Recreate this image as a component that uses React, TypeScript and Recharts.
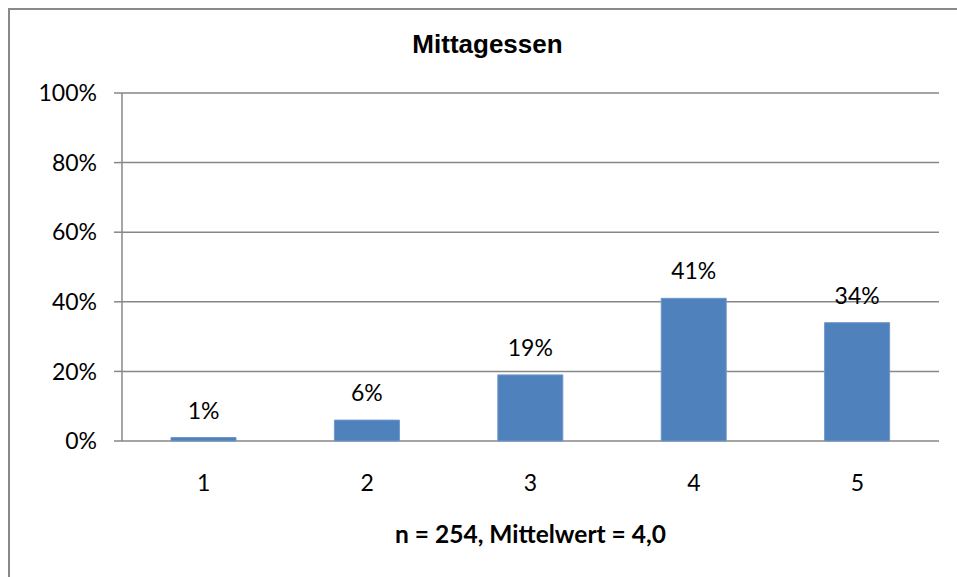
import React from "react";
import { BarChart, Bar, XAxis, YAxis, CartesianGrid, LabelList, Customized } from "recharts";

const categories = ["1", "2", "3", "4", "5"];
const shares = [1, 6, 19, 41, 34];
const yTicks = [0, 20, 40, 60, 80, 100];
const edgeTicks = [0.5, 1.5, 2.5, 3.5, 4.5, 5.5];
const chartTitle = "Mittagessen";
const axisTitle = "n = 254, Mittelwert = 4,0";

const data = categories.map((c, i) => ({ cat: c, value: shares[i] }));

const FONT = "Lato, 'Open Sans', sans-serif";
const GRID = "#878787";

const Titles = () => (
  <g>
    <text x={479.5} y={45} textAnchor="middle" fontFamily="'Liberation Sans', Arial, sans-serif" fontWeight="bold" fontSize={26} fill="#000">
      {chartTitle}
    </text>
    <text x={522.5} y={535} textAnchor="middle" fontFamily={FONT} fontWeight="bold" fontSize={24.5} fill="#000">
      {axisTitle}
    </text>
  </g>
);

export default function App() {
  return (
    <div style={{ position: "relative", width: 941, height: 561, overflow: "hidden", background: "#fff" }}>
      <BarChart
        width={941}
        height={561}
        data={data}
        margin={{ top: 85, right: 10, bottom: 68, left: 0 }}
        barCategoryGap="30%"
      >
        <CartesianGrid horizontal vertical={false} stroke={GRID} strokeWidth={1.5} />
        <XAxis
          xAxisId="edges"
          type="number"
          dataKey="pos"
          domain={[0.5, 5.5]}
          ticks={edgeTicks}
          tick={false}
          tickSize={8}
          height={0}
          stroke={GRID}
          strokeWidth={1.5}
          tickLine={{ stroke: GRID, strokeWidth: 1.5 }}
          allowDataOverflow
        />
        <XAxis
          xAxisId="cat"
          dataKey="cat"
          axisLine={false}
          tickLine={false}
          tickSize={0}
          tickMargin={34}
          height={60}
          tick={{ fill: "#000", fontSize: 23, fontFamily: FONT }}
        />
        <YAxis
          domain={[0, 100]}
          ticks={yTicks}
          width={114}
          tickFormatter={(v) => `${v}%`}
          tickSize={8}
          tickMargin={17}
          stroke={GRID}
          strokeWidth={1.5}
          tickLine={{ stroke: GRID, strokeWidth: 1.5 }}
          tick={{ fill: "#000", fontSize: 23, fontFamily: FONT }}
          interval={0}
        />
        <Bar dataKey="value" xAxisId="cat" fill="#4F81BD" stroke="#6f97c9" strokeWidth={1} isAnimationActive={false}>
          <LabelList
            dataKey="value"
            position="top"
            offset={19}
            formatter={(v) => `${v}%`}
            style={{ fill: "#000", fontSize: 23, fontFamily: FONT }}
          />
        </Bar>
        <Customized component={Titles} />
      </BarChart>
      <div
        style={{
          position: "fixed",
          left: 8,
          top: 8,
          width: 1000,
          height: 600,
          borderTop: "2px solid #898989",
          borderLeft: "2px solid #898989",
          boxSizing: "border-box",
          pointerEvents: "none",
        }}
      />
    </div>
  );
}
